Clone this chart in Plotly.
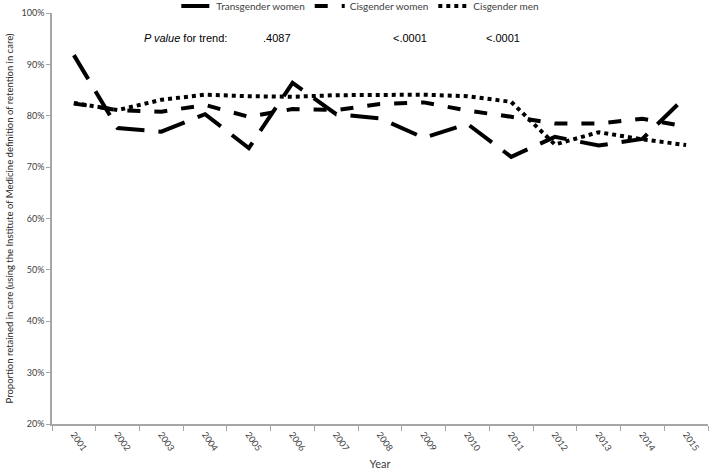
import plotly.graph_objects as go

years = [str(y) for y in range(2001, 2016)]
trans_women = [91.8, 77.6, 76.9, 80.3, 73.7, 86.4, 80.3, 79.5, 75.7, 78.4, 72.0, 75.9, 74.2, 75.5, 83.8]
cis_women = [82.4, 81.1, 80.8, 82.1, 79.8, 81.3, 81.1, 82.3, 82.6, 81.0, 79.8, 78.5, 78.5, 79.4, 77.9]
cis_men = [82.5, 81.1, 83.1, 84.1, 83.8, 83.7, 84.0, 84.1, 84.1, 83.8, 82.7, 74.4, 76.8, 75.4, 74.3]

p_labels = ["<i>P value</i> for trend:", ".4087", "&lt;.0001", "&lt;.0001"]

font_main = "Lato, 'Open Sans', sans-serif"

fig = go.Figure()

fig.add_trace(go.Scatter(
    x=years, y=[v / 100 for v in trans_women],
    mode='lines',
    line=dict(color='black', width=4, dash='28px,14px'),
    name='Transgender women'
))
fig.add_trace(go.Scatter(
    x=years, y=[v / 100 for v in cis_women],
    mode='lines',
    line=dict(color='black', width=4, dash='13px,14px'),
    name='Cisgender women'
))
fig.add_trace(go.Scatter(
    x=years, y=[v / 100 for v in cis_men],
    mode='lines',
    line=dict(color='black', width=4, dash='4px,4px'),
    name='Cisgender men'
))

# p values row
ann_x = [0.137, 0.319, 0.517, 0.658]
for xi, t in zip(ann_x, p_labels):
    fig.add_annotation(x=xi, y=0.958, xref='paper', yref='paper', xanchor='left', showarrow=False,
                       text=t, font=dict(family="'Liberation Sans', Arial", size=11, color='black'))

fig.update_layout(
    width=711, height=472,
    margin=dict(l=52, r=3, t=13, b=48, autoexpand=False),
    plot_bgcolor='white', paper_bgcolor='white',
    font=dict(family=font_main, size=10, color='#404040'),
    showlegend=True,
    legend=dict(orientation='h', x=0.47, xanchor='center',
                y=1.017, yanchor='middle',
                font=dict(size=10, color='#404040'), bgcolor='rgba(0,0,0,0)',
                itemwidth=30, tracegroupgap=0),
    xaxis=dict(
        type='category', range=[-0.5, 14.5], automargin=False,
        showline=True, linecolor='#a6a6a6', linewidth=1.5,
        ticks='outside', tickson='boundaries', ticklen=5, tickcolor='#a6a6a6',
        tickangle=55, tickfont=dict(size=9, color='#404040'),
        showgrid=False, zeroline=False,
        title=dict(text='Year', font=dict(size=11, color='#404040'), standoff=8),
    ),
    yaxis=dict(
        range=[0.2, 1.0], dtick=0.1, tickformat='.0%', automargin=False,
        showline=True, linecolor='#a6a6a6', linewidth=1.5,
        ticks='outside', ticklen=4, tickcolor='#a6a6a6',
        tickfont=dict(size=9, color='#404040'),
        showgrid=False, zeroline=False,
        title=dict(text='Proportion retained in care (using the Institute of Medicine definition of retention in care)',
                   font=dict(size=9.5, color='#262626'), standoff=6),
    ),
)

# drop the page's default body margin so the figure fills the window
fig.write_html("out.html", config={'displayModeBar': False},
               post_script="document.body.style.margin='0';")
